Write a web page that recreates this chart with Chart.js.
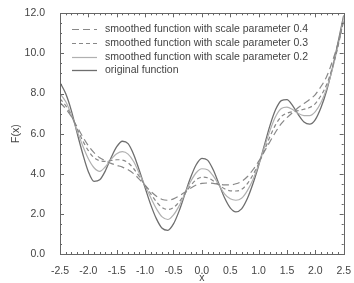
<!DOCTYPE html>
<html>
<head>
<meta charset="utf-8">
<script src="https://cdn.jsdelivr.net/npm/chart.js@4.4.0/dist/chart.umd.min.js"></script>
<style>
  html, body { margin: 0; padding: 0; background: #fff; }
  #wrap { width: 354px; height: 283px; }
</style>
</head>
<body>
<div id="wrap"><canvas id="chart" width="354" height="283"></canvas></div>
<script>
const xValues = [-2.5, -2.4, -2.3, -2.2, -2.1, -2.0, -1.9, -1.8, -1.7, -1.6,
                 -1.5, -1.4, -1.3, -1.2, -1.1, -1.0, -0.9, -0.8, -0.7, -0.6,
                 -0.5, -0.4, -0.3, -0.2, -0.1, 0.0, 0.1, 0.2, 0.3, 0.4,
                 0.5, 0.6, 0.7, 0.8, 0.9, 1.0, 1.1, 1.2, 1.3, 1.4,
                 1.5, 1.6, 1.7, 1.8, 1.9, 2.0, 2.1, 2.2, 2.3, 2.4, 2.5];

const smooth04 = [7.55, 7.25, 6.85, 6.35, 5.85, 5.4, 5.05, 4.8, 4.65, 4.52,
                  4.42, 4.33, 4.2, 4.0, 3.72, 3.42, 3.12, 2.88, 2.72, 2.68,
                  2.75, 2.9, 3.08, 3.28, 3.44, 3.52, 3.54, 3.52, 3.48, 3.45,
                  3.45, 3.5, 3.62, 3.85, 4.2, 4.62, 5.1, 5.6, 6.08, 6.5,
                  6.8, 7.05, 7.3, 7.5, 7.7, 7.95, 8.35, 8.85, 9.6, 10.5, 11.6];

const smooth03 = [7.75, 7.4, 6.9, 6.25, 5.65, 5.15, 4.8, 4.65, 4.62, 4.66,
                  4.7, 4.68, 4.55, 4.25, 3.85, 3.42, 3.0, 2.6, 2.32, 2.22,
                  2.32, 2.6, 3.0, 3.4, 3.7, 3.83, 3.8, 3.65, 3.45, 3.25,
                  3.15, 3.14, 3.22, 3.5, 3.95, 4.5, 5.15, 5.85, 6.45, 6.85,
                  7.02, 7.1, 7.15, 7.22, 7.3, 7.5, 7.9, 8.45, 9.3, 10.35, 11.7];

const smooth02 = [8.0, 7.6, 6.95, 6.15, 5.4, 4.75, 4.3, 4.12, 4.35, 4.72,
                  5.0, 5.1, 4.98, 4.6, 4.0, 3.4, 2.8, 2.25, 1.85, 1.72,
                  1.95, 2.4, 3.0, 3.6, 4.05, 4.25, 4.2, 3.9, 3.45, 3.0,
                  2.75, 2.68, 2.78, 3.15, 3.7, 4.45, 5.3, 6.15, 6.85, 7.25,
                  7.32, 7.2, 7.0, 6.9, 6.9, 7.1, 7.55, 8.25, 9.2, 10.4, 11.8];

const original = [8.55, 8.0, 7.15, 6.05, 5.0, 4.1, 3.62, 3.7, 4.15, 4.8,
                  5.35, 5.62, 5.5, 4.95, 4.15, 3.3, 2.45, 1.75, 1.28, 1.18,
                  1.5, 2.15, 2.98, 3.8, 4.45, 4.77, 4.68, 4.2, 3.5, 2.8,
                  2.3, 2.1, 2.25, 2.75, 3.5, 4.4, 5.4, 6.4, 7.2, 7.65,
                  7.7, 7.4, 6.95, 6.58, 6.47, 6.7, 7.3, 8.15, 9.25, 10.55, 11.9];

const seriesLabels = [
  'smoothed function with scale parameter 0.4',
  'smoothed function with scale parameter 0.3',
  'smoothed function with scale parameter 0.2',
  'original function'
];

const FONT = '"Liberation Sans", Arial, Helvetica, sans-serif';
const TEXT = '#444';
const FRAME = '#666';

function toPoints(ys) {
  return xValues.map((x, i) => ({ x: x, y: ys[i] }));
}

// frame with inward ticks on all four sides
const framePlugin = {
  id: 'frame',
  afterDatasetsDraw(chart) {
    const ctx = chart.ctx;
    const a = chart.chartArea;
    const xs = chart.scales.x, ys = chart.scales.y;
    ctx.save();
    ctx.strokeStyle = FRAME;
    ctx.lineWidth = 1;
    ctx.strokeRect(Math.round(a.left) + 0.5, Math.round(a.top) + 0.5,
                   Math.round(a.right - a.left), Math.round(a.bottom - a.top));
    ctx.beginPath();
    for (let k = 0; k <= 50; k++) {
      const v = -2.5 + k * 0.1;
      const px = Math.round(xs.getPixelForValue(v)) + 0.5;
      const len = (k % 5 === 0) ? 4 : 2;
      ctx.moveTo(px, a.bottom); ctx.lineTo(px, a.bottom - len);
      ctx.moveTo(px, a.top); ctx.lineTo(px, a.top + len);
    }
    for (let k = 0; k <= 24; k++) {
      const v = k * 0.5;
      const py = Math.round(ys.getPixelForValue(v)) + 0.5;
      const len = (k % 4 === 0) ? 4 : 2;
      ctx.moveTo(a.left, py); ctx.lineTo(a.left + len, py);
      ctx.moveTo(a.right, py); ctx.lineTo(a.right - len, py);
    }
    ctx.stroke();
    ctx.restore();
  }
};

// legend drawn inside the plot, top left
const insideLegend = {
  id: 'insideLegend',
  afterDraw(chart) {
    const ctx = chart.ctx;
    const a = chart.chartArea;
    ctx.save();
    ctx.font = '10.5px ' + FONT;
    ctx.textBaseline = 'middle';
    chart.data.datasets.forEach((ds, i) => {
      const y = Math.round(a.top + 16 + i * 13.7) + 0.5;
      ctx.strokeStyle = ds.borderColor;
      ctx.lineWidth = ds.borderWidth;
      ctx.setLineDash(ds.borderDash || []);
      ctx.beginPath();
      ctx.moveTo(a.left + 12, y);
      ctx.lineTo(a.left + 37, y);
      ctx.stroke();
      ctx.setLineDash([]);
      ctx.fillStyle = TEXT;
      ctx.fillText(ds.label, a.left + 45, y);
    });
    ctx.restore();
  }
};

Chart.defaults.font.family = FONT;
Chart.defaults.color = TEXT;

new Chart(document.getElementById('chart').getContext('2d'), {
  type: 'line',
  data: {
    datasets: [
      { label: seriesLabels[0], data: toPoints(smooth04), borderColor: '#888', borderWidth: 1.2, borderDash: [7, 4] },
      { label: seriesLabels[1], data: toPoints(smooth03), borderColor: '#888', borderWidth: 1.2, borderDash: [4, 3] },
      { label: seriesLabels[2], data: toPoints(smooth02), borderColor: '#b0b0b0', borderWidth: 1.2 },
      { label: seriesLabels[3], data: toPoints(original), borderColor: '#6e6e6e', borderWidth: 1.3 }
    ]
  },
  options: {
    responsive: false,
    animation: false,
    devicePixelRatio: 1,
    elements: {
      point: { radius: 0 },
      line: { cubicInterpolationMode: 'monotone', fill: false }
    },
    layout: { autoPadding: false, padding: { top: 12, right: 5, left: 0, bottom: 0 } },
    plugins: { legend: { display: false }, tooltip: { enabled: false } },
    scales: {
      x: {
        type: 'linear', min: -2.5, max: 2.5,
        grid: { display: false },
        border: { display: false },
        ticks: {
          stepSize: 0.5, autoSkip: false, maxRotation: 0, padding: 3,
          font: { size: 10.5 }, color: TEXT,
          callback: v => v.toFixed(1)
        },
        title: { display: true, text: 'x', font: { size: 10.5 }, color: TEXT, padding: { top: 0, bottom: -1 } },
        afterFit: s => { s.height = 29; }
      },
      y: {
        min: 0, max: 12,
        grid: { display: false },
        border: { display: false },
        ticks: {
          stepSize: 2, padding: 7,
          font: { size: 10.5 }, color: TEXT,
          callback: v => v.toFixed(1)
        },
        title: { display: true, text: 'F(x)', font: { size: 10.5 }, color: TEXT, padding: { top: 10, bottom: 0 } },
        afterFit: s => { s.width = 60; }
      }
    }
  },
  plugins: [framePlugin, insideLegend]
});
</script>
</body>
</html>
